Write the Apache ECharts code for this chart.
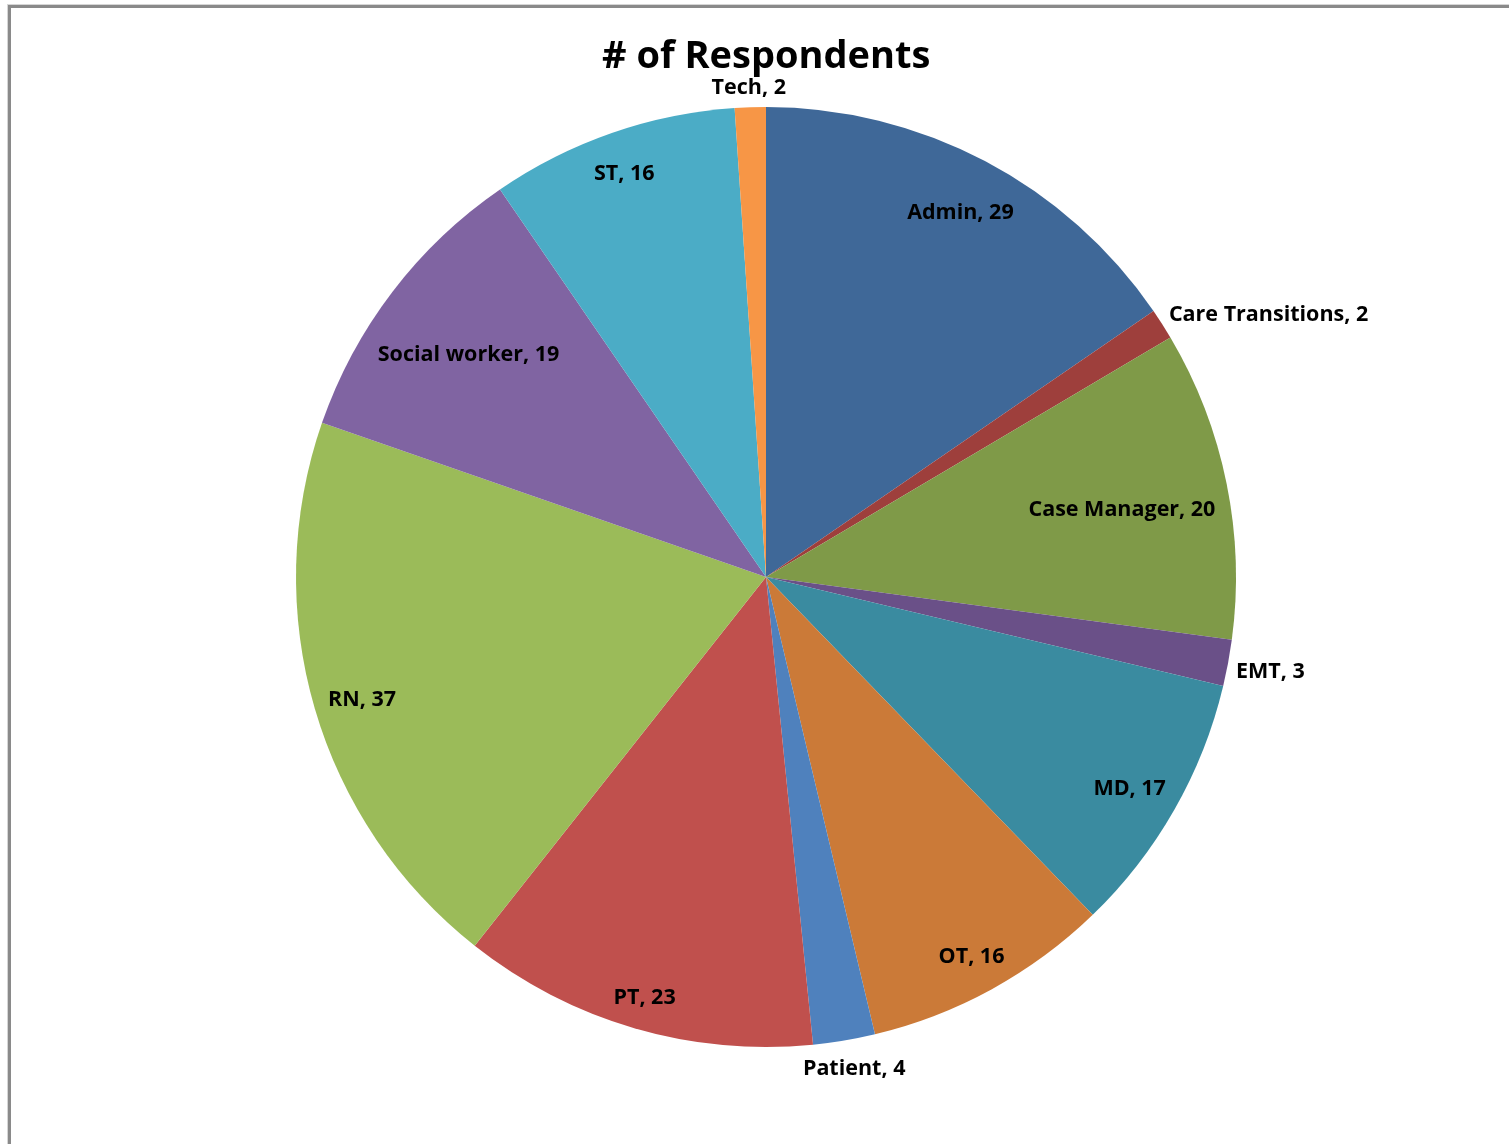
<!DOCTYPE html>
<html>
<head>
<meta charset="utf-8">
<title># of Respondents</title>
<script src="https://cdn.jsdelivr.net/npm/echarts@6/dist/echarts.min.js"></script>
<style>
  html, body { margin: 0; padding: 0; background: #fff; overflow: hidden; }
  #frame {
    position: absolute; left: 8px; top: 5px; width: 1600px; height: 1300px;
    border-left: 3px solid #8a8a8a; border-top: 3px solid #8a8a8a;
    box-shadow: -1px -1px 0 #d6d6d6;
  }
  #chart { position: absolute; left: 0; top: 0; width: 1509px; height: 1144px; }
</style>
</head>
<body>
<div id="frame"></div>
<div id="chart"></div>
<script>
// Respondents by role
const categories = ['Admin', 'Care Transitions', 'Case Manager', 'EMT', 'MD', 'OT',
                    'Patient', 'PT', 'RN', 'Social worker', 'ST', 'Tech'];
const respondents = [29, 2, 20, 3, 17, 16, 4, 23, 37, 19, 16, 2];

const sliceColors = ['#3F6898', '#9E3F3C', '#7F9A48', '#6A5088', '#3A8BA0', '#CB7A38',
                     '#4F81BD', '#C0504D', '#9BBB59', '#8064A2', '#4BACC6', '#F79646'];

// Pie geometry (pixels)
const CX = 766, CY = 577, R = 470;
const INSIDE_MARGIN = 12;   // farthest label-box corner stays this far inside the rim
const OUTSIDE_GAP = 8;      // outside label boxes hang off a point this far past the rim
const OUTSIDE_BELOW = 5;    // slices smaller than this get their label outside
const BOX_TOP_PAD = 10;     // label boxes carry extra room above the text

const total = respondents.reduce((a, b) => a + b, 0);
function midAngle(i) {
  let before = 0;
  for (let k = 0; k < i; k++) before += respondents[k];
  return (before + respondents[i] / 2) / total * Math.PI * 2;
}

// Place each label box along its slice's mid-angle ray, best-fit style.
function placeLabel(params) {
  const i = params.dataIndex;
  const a = midAngle(i);
  const ux = Math.sin(a), uy = -Math.cos(a);
  const ax = Math.abs(ux), ay = Math.abs(uy);
  const hw = params.labelRect.width / 2;
  const hh = params.labelRect.height / 2 + BOX_TOP_PAD / 2;
  let x, y;
  if (respondents[i] >= OUTSIDE_BELOW) {
    const D = R - INSIDE_MARGIN;
    const p = ax * hw + ay * hh;
    const t = -p + Math.sqrt(p * p - (hw * hw + hh * hh - D * D));
    x = CX + t * ux; y = CY + t * uy;
  } else {
    const m = Math.max(ax, ay);
    const px = CX + (R + OUTSIDE_GAP) * ux, py = CY + (R + OUTSIDE_GAP) * uy;
    x = px + hw * ux / m; y = py + hh * uy / m;
  }
  // text sits in the lower part of its box
  return { x: x, y: y + BOX_TOP_PAD / 2, align: 'center', verticalAlign: 'middle' };
}

const chart = echarts.init(document.getElementById('chart'), null, { renderer: 'canvas' });
chart.setOption({
  backgroundColor: 'transparent',
  animation: false,
  title: {
    text: '# of Respondents',
    left: 597,
    top: 33,
    textStyle: { fontFamily: 'Open Sans', fontWeight: 'bold', fontSize: 38, color: '#000' }
  },
  series: [{
    type: 'pie',
    center: [CX, CY],
    radius: [0, R],
    startAngle: 90,
    clockwise: true,
    avoidLabelOverlap: false,
    itemStyle: { borderWidth: 0 },
    emphasis: { disabled: true },
    label: {
      show: true,
      position: 'inside',
      formatter: '{b}, {c}',
      fontFamily: 'Open Sans',
      fontWeight: 'bold',
      fontSize: 21.5,
      color: '#000',
      textBorderWidth: 0
    },
    labelLine: { show: false },
    labelLayout: placeLabel,
    data: categories.map((name, i) => ({
      name: name,
      value: respondents[i],
      itemStyle: { color: sliceColors[i] }
    }))
  }]
});
</script>
</body>
</html>
